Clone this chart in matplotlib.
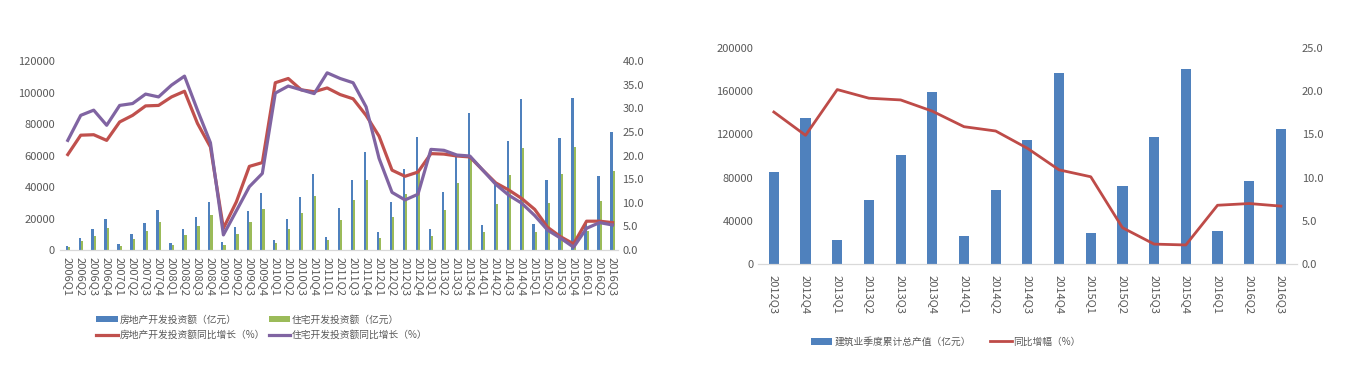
import numpy as np
import matplotlib
matplotlib.use("Agg")
import matplotlib.pyplot as plt
from matplotlib.ticker import FormatStrFormatter

plt.rcParams['font.family'] = ['Noto Sans CJK SC', 'DejaVu Sans']

# left chart: real estate investment, quarterly cumulative
quarters_l = ['2006Q1', '2006Q2', '2006Q3', '2006Q4', '2007Q1', '2007Q2', '2007Q3', '2007Q4',
              '2008Q1', '2008Q2', '2008Q3', '2008Q4', '2009Q1', '2009Q2', '2009Q3', '2009Q4',
              '2010Q1', '2010Q2', '2010Q3', '2010Q4', '2011Q1', '2011Q2', '2011Q3', '2011Q4',
              '2012Q1', '2012Q2', '2012Q3', '2012Q4', '2013Q1', '2013Q2', '2013Q3', '2013Q4',
              '2014Q1', '2014Q2', '2014Q3', '2014Q4', '2015Q1', '2015Q2', '2015Q3', '2015Q4',
              '2016Q1', '2016Q2', '2016Q3']
invest = [2540, 7400, 13100, 19500, 3600, 10000, 16900, 25200,
          4700, 13100, 21200, 30500, 4900, 14400, 25000, 36400,
          6600, 19700, 33400, 48300, 8500, 26500, 44400, 62000,
          11200, 30700, 51200, 72000, 13100, 37000, 59700, 86800,
          15700, 41900, 69200, 95700, 16500, 44400, 70900, 96700,
          17400, 47000, 75100]
resid = [1700, 5500, 9100, 13800, 2500, 7000, 12100, 18000,
         3400, 9500, 15500, 22000, 3400, 10200, 17600, 25800,
         4700, 13500, 23700, 34100, 6300, 18800, 31700, 44400,
         7400, 21200, 35300, 49400, 9100, 25400, 42300, 57800,
         11200, 29200, 47400, 65000, 11600, 29600, 48000, 65200,
         12300, 31300, 50400]
invest_yoy = [20.2, 24.3, 24.4, 23.2, 27.1, 28.5, 30.5, 30.6,
              32.4, 33.6, 26.8, 21.8, 4.6, 10.2, 17.7, 18.5,
              35.4, 36.3, 33.9, 33.5, 34.3, 32.9, 32.0, 28.5,
              24.1, 16.9, 15.6, 16.5, 20.4, 20.3, 19.9, 19.7,
              16.9, 14.2, 12.7, 10.9, 8.6, 4.8, 2.8, 1.3,
              6.1, 6.1, 5.8]
resid_yoy = [23.2, 28.5, 29.6, 26.4, 30.6, 31.0, 33.0, 32.4,
             34.9, 36.8, 29.6, 22.7, 3.2, 8.3, 13.4, 16.2,
             33.2, 34.7, 33.9, 33.1, 37.5, 36.3, 35.4, 30.3,
             19.4, 12.2, 10.6, 11.8, 21.3, 21.1, 20.1, 19.9,
             16.9, 13.9, 11.6, 9.9, 7.3, 4.2, 2.5, 0.6,
             4.6, 5.8, 5.3]

# right chart: construction output
quarters_r = ['2012Q3', '2012Q4', '2013Q1', '2013Q2', '2013Q3', '2013Q4', '2014Q1', '2014Q2',
              '2014Q3', '2014Q4', '2015Q1', '2015Q2', '2015Q3', '2015Q4', '2016Q1', '2016Q2',
              '2016Q3']
output = [84900, 135200, 21900, 59600, 101200, 159300, 25600, 68500,
          115100, 176500, 28400, 72200, 117600, 180600, 30200, 77200, 125300]
output_yoy = [17.6, 14.9, 20.2, 19.2, 19.0, 17.7, 15.9, 15.4,
              13.4, 10.9, 10.1, 4.2, 2.3, 2.2, 6.8, 7.0, 6.7]

BLUE = '#4F81BD'
GREEN = '#9BBB59'
RED = '#C0504D'
PURPLE = '#8064A2'
TXT = '#595959'

fig = plt.figure(figsize=(13.57, 3.82), dpi=100)


def style(ax, ax2):
    for a in (ax, ax2):
        for s in ('top', 'left', 'right'):
            a.spines[s].set_visible(False)
        a.spines['bottom'].set_color('#D9D9D9')
        a.tick_params(length=0, colors=TXT, labelsize=8)


# ---- left
ax = fig.add_axes([0.0442, 0.3455, 0.411, 0.4948])
ax2 = ax.twinx()
x = np.arange(len(quarters_l))
w = 0.17
b1 = ax.bar(x - w / 2, invest, w, color=BLUE, label='房地产开发投资额（亿元）')
b2 = ax.bar(x + w / 2, resid, w, color=GREEN, label='住宅开发投资额（亿元）')
l1, = ax2.plot(x, invest_yoy, color=RED, lw=2.3, label='房地产开发投资额同比增长（%）')
l2, = ax2.plot(x, resid_yoy, color=PURPLE, lw=2.3, label='住宅开发投资额同比增长（%）')
ax.set_ylim(0, 120000)
ax.set_yticks(np.arange(0, 120001, 20000))
ax2.set_ylim(0, 40)
ax2.set_yticks(np.arange(0, 40.1, 5))
ax2.yaxis.set_major_formatter(FormatStrFormatter('%.1f'))
ax.set_xlim(-0.6, len(x) - 0.6)
ax.set_xticks(x)
ax.set_xticklabels(quarters_l, rotation=270, fontsize=8)
style(ax, ax2)
ax.tick_params(axis='x', pad=5)
fig.legend(handles=[b1, l1, b2, l2], ncol=2, loc='center', bbox_to_anchor=(0.193, 0.143),
           frameon=False, fontsize=7, labelcolor=TXT, handlelength=2.2, handletextpad=0.2,
           columnspacing=0.4, labelspacing=0.6)

# ---- right
bx = fig.add_axes([0.5586, 0.309, 0.397, 0.565])
bx2 = bx.twinx()
xr = np.arange(len(quarters_r))
b3 = bx.bar(xr, output, 0.32, color=BLUE, label='建筑业季度累计总产值（亿元）')
l3, = bx2.plot(xr, output_yoy, color='#BE4B48', lw=2.0, label='同比增幅（%）')
bx.set_ylim(0, 200000)
bx.set_yticks(np.arange(0, 200001, 40000))
bx2.set_ylim(0, 25)
bx2.set_yticks(np.arange(0, 25.1, 5))
bx2.yaxis.set_major_formatter(FormatStrFormatter('%.1f'))
bx.set_xlim(-0.5, len(xr) - 0.5)
bx.set_xticks(xr)
bx.set_xticklabels(quarters_r, rotation=270, fontsize=8)
style(bx, bx2)
bx.tick_params(axis='x', pad=8)
fig.legend(handles=[b3, l3], ncol=2, loc='center', bbox_to_anchor=(0.697, 0.105),
           frameon=False, fontsize=7, labelcolor=TXT, handlelength=2.2, handletextpad=0.2,
           columnspacing=2.0)

fig.savefig('out.png', dpi=100)
